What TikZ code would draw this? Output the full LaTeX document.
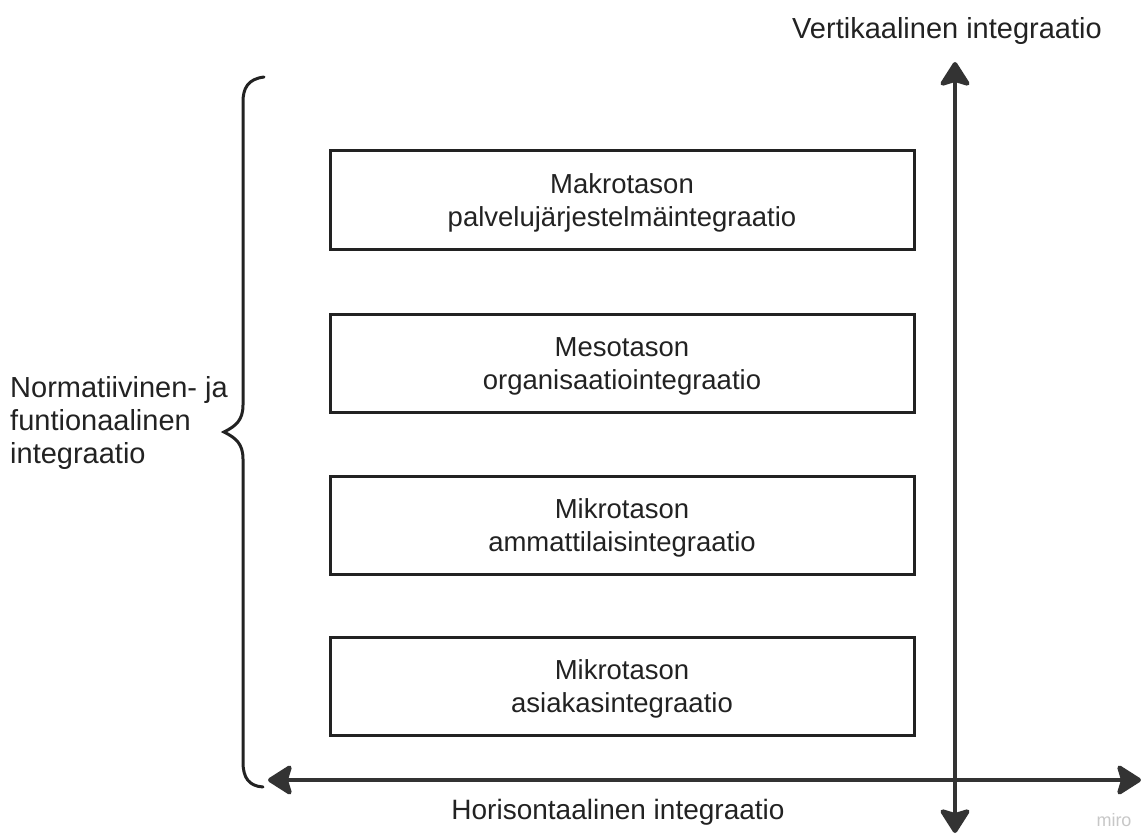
\documentclass[tikz,border=0pt]{standalone}
\usepackage{fontspec}
\setmainfont{Liberation Sans}
\usetikzlibrary{arrows.meta}
\definecolor{ink}{HTML}{222222}
\definecolor{axis}{HTML}{333333}
\begin{document}
\begin{tikzpicture}[x=1pt,y=-1pt,
  lvl/.style={draw=ink,line width=3pt,minimum width=584pt,minimum height=98pt,align=center,
    font=\fontsize{27.5}{33}\selectfont,text=ink,inner sep=0pt},
  ax/.style={draw=axis,line width=4.5pt,{Stealth[length=27pt,width=34pt,inset=5pt,round]}-{Stealth[length=27pt,width=34pt,inset=5pt,round]}},
  lbl/.style={font=\fontsize{28.5}{33}\selectfont,text=ink,inner sep=0pt}]
\useasboundingbox (0,0) rectangle (1141,840);
\node[lvl] (b1) at (622,200) {};
\node[lvl] (b2) at (622,363) {};
\node[lvl] (b3) at (622,525) {};
\node[lvl] (b4) at (622,686) {};
\node[lvl,draw=none,minimum height=0pt] (t1) at ([yshift=-3pt]b1.center) {Makrotason\\palvelujärjestelmäintegraatio};
\node[lvl,draw=none,minimum height=0pt] (t2) at ([yshift=-3pt]b2.center) {Mesotason\\organisaatiointegraatio};
\node[lvl,draw=none,minimum height=0pt] (t3) at ([yshift=-3pt]b3.center) {Mikrotason\\ammattilaisintegraatio};
\node[lvl,draw=none,minimum height=0pt] (t4) at ([yshift=-3pt]b4.center) {Mikrotason\\asiakasintegraatio};
\coordinate (vt) at (955,62);
\coordinate (vb) at (955,833);
\coordinate (hl) at (268,780);
\coordinate (hr) at (1141,780);
\draw[ax] (vb) -- (vt);
\draw[ax] (hl) -- (hr);
\node[lbl,font=\fontsize{29}{33}\selectfont] (vlab) at (947,31) {Vertikaalinen integraatio};
\node[lbl,font=\fontsize{28}{33}\selectfont] (hlab) at (618,812) {Horisontaalinen integraatio};
\node[lbl,font=\fontsize{29}{33}\selectfont,align=left,anchor=west] (left) at (10,423) {Normatiivinen- ja\\funtionaalinen\\integraatio};
\draw[ink,line width=3pt,line cap=round] (264,77) .. controls (248,79) and (243,88) .. (243,102)
  -- (243,405) .. controls (243,420) and (236,426) .. (224,432)
  .. controls (236,438) and (243,444) .. (243,459)
  -- (243,762) .. controls (243,778) and (249,786) .. (263,787);
\node[font=\fontsize{18}{18}\selectfont,text=black!22] (miro) at (1114,820) {miro};
\end{tikzpicture}
\end{document}
